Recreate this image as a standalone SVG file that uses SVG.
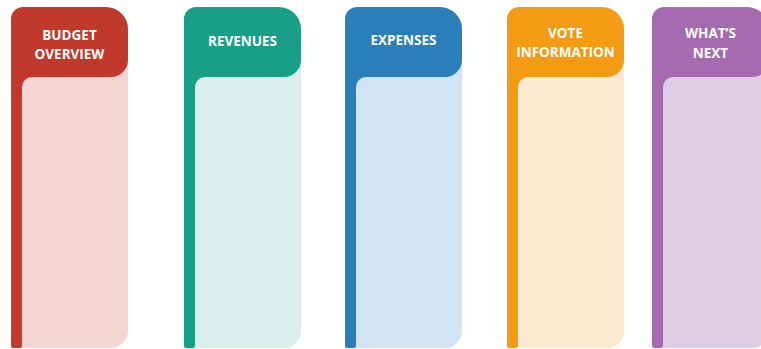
<svg xmlns="http://www.w3.org/2000/svg" xmlns:xlink="http://www.w3.org/1999/xlink" width="761" height="349" viewBox="0 0 761 349">
  <style>
    .t { font-family: "Open Sans", "Liberation Sans", sans-serif; font-weight: 700; font-size: 13.5px; fill: #FFFFFF; text-anchor: middle; }
  </style>
  <defs>
    <path id="light" d="M11,40 H117 V331 A17,17 0 0 1 100,348 H11 Z"/>
    <path id="dark" d="M0,19 A12,12 0 0 1 12,7 H95 A22,22 0 0 1 117,29 V60 A17,17 0 0 1 100,77 H21 A10,10 0 0 0 11,87 V346 A2,2 0 0 1 9,348 H2 A2,2 0 0 1 0,346 Z"/>
  </defs>
  <rect width="761" height="349" fill="#FFFFFF"/>
  <g id="connectors"/>
  <g id="budget-overview" transform="translate(11,0)">
    <use href="#light" fill="#F5D5D2"/>
    <use href="#dark" fill="#C0392B"/>
    <text class="t" x="58.5" y="39.5">BUDGET</text>
    <text class="t" x="58.5" y="59">OVERVIEW</text>
  </g>
  <g id="revenues" transform="translate(184,0)">
    <use href="#light" fill="#DAEFEC"/>
    <use href="#dark" fill="#17A085"/>
    <text class="t" x="58.5" y="45.5">REVENUES</text>
  </g>
  <g id="expenses" transform="translate(345,0)">
    <use href="#light" fill="#D0E4F3"/>
    <use href="#dark" fill="#2A7FBA"/>
    <text class="t" x="58.5" y="45">EXPENSES</text>
  </g>
  <g id="vote-information" transform="translate(507,0)">
    <use href="#light" fill="#FCEAD0"/>
    <use href="#dark" fill="#F39C13"/>
    <text class="t" x="58.5" y="37.7">VOTE</text>
    <text class="t" x="58.5" y="56.7">INFORMATION</text>
  </g>
  <g id="whats-next" transform="translate(652,0)">
    <use href="#light" fill="#E0CCE4"/>
    <use href="#dark" fill="#A56AAF"/>
    <text class="t" x="58.5" y="38.2">WHAT’S</text>
    <text class="t" x="58.5" y="57.6">NEXT</text>
  </g>
</svg>
